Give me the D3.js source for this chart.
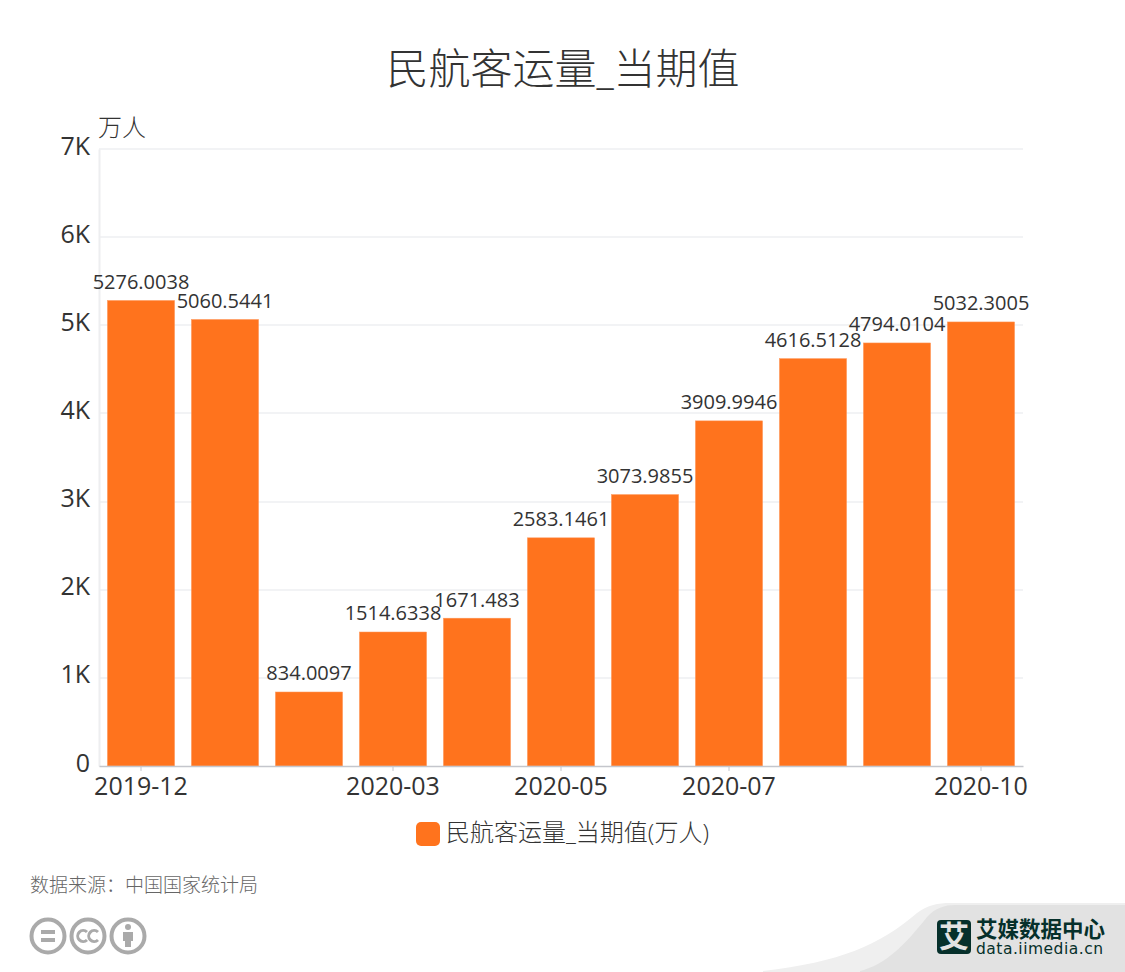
<!DOCTYPE html>
<html>
<head>
<meta charset="utf-8">
<script src="https://cdn.jsdelivr.net/npm/d3@7/dist/d3.min.js"></script>
<style>
html, body { margin: 0; padding: 0; background: #fff; }
svg { display: block; }
text { font-family: "Open Sans", "Noto Sans CJK SC", sans-serif; }
</style>
</head>
<body>
<svg id="chart" width="1125" height="972"></svg>
<script>
var categories = ['2019-12', '2020-01', '2020-02', '2020-03', '2020-04', '2020-05', '2020-06', '2020-07', '2020-08', '2020-09', '2020-10'];
var values = [5276.0038, 5060.5441, 834.0097, 1514.6338, 1671.483, 2583.1461, 3073.9855, 3909.9946, 4616.5128, 4794.0104, 5032.3005];
var shownCategories = ['2019-12', '2020-03', '2020-05', '2020-07', '2020-10'];
var yTicks = [0, 1000, 2000, 3000, 4000, 5000, 6000, 7000];

var titleText = '民航客运量_当期值';
var unitText = '万人';
var legendText = '民航客运量_当期值(万人)';
var sourceText = '数据来源：中国国家统计局';

var bounds = {left: 99, right: 1023, top: 149, bottom: 766};
var textColor = '#333';
var barColor = '#ff731d';
var barEdge = '#ff9a5e';
var gridColor = '#f2f3f5';

var svg = d3.select('#chart');

var x = d3.scaleBand().domain(categories).range([bounds.left, bounds.right]).paddingInner(0.2).paddingOuter(0.1);
var y = d3.scaleLinear().domain([0, 7000]).range([bounds.bottom, bounds.top]);

svg.append('text')
    .attr('x', 563).attr('y', 84)
    .attr('text-anchor', 'middle')
    .attr('fill', textColor)
    .style('font-size', '42px')
    .style('font-weight', 300)
    .text(titleText);

// grid
svg.append('g').selectAll('line')
    .data(yTicks.filter(function(d) { return d > 0; }))
    .join('line')
    .attr('x1', bounds.left).attr('x2', bounds.right)
    .attr('y1', function(d) { return Math.round(y(d)); })
    .attr('y2', function(d) { return Math.round(y(d)); })
    .attr('stroke', gridColor)
    .attr('stroke-width', 2);

// y axis
var yAxis = svg.append('g')
    .attr('transform', 'translate(' + bounds.left + ',0)')
    .call(d3.axisLeft(y).tickValues(yTicks).tickSize(0).tickPadding(9)
        .tickFormat(function(d) { return d === 0 ? '0' : (d / 1000) + 'K'; }));
yAxis.select('.domain').attr('stroke', '#edeef0').attr('stroke-width', 2);
yAxis.selectAll('text').attr('fill', textColor).style('font-size', '25px').attr('dy', '0.2em');

svg.append('text')
    .attr('x', 98).attr('y', 136)
    .attr('fill', textColor)
    .style('font-size', '24px')
    .style('font-weight', 300)
    .text(unitText);

// bars
svg.append('g').selectAll('rect')
    .data(values)
    .join('rect')
    .attr('x', function(d, i) { return x(categories[i]); })
    .attr('y', function(d) { return y(d) - 0.5; })
    .attr('width', x.bandwidth())
    .attr('height', function(d) { return y(0) - y(d) + 0.5; })
    .attr('fill', barColor)
    .attr('stroke', barEdge)
    .attr('stroke-width', 0.5);

// x axis
var xAxis = svg.append('g')
    .attr('transform', 'translate(0,' + bounds.bottom + ')')
    .call(d3.axisBottom(x).tickValues(shownCategories).tickSize(5).tickSizeOuter(0).tickPadding(6));
xAxis.select('.domain').attr('stroke', '#c4c6cc').attr('stroke-width', 1.5);
xAxis.selectAll('line').attr('stroke', '#c4c6cc');
xAxis.selectAll('text').attr('fill', textColor).style('font-size', '25px');

// value labels
svg.append('g').selectAll('text')
    .data(values)
    .join('text')
    .attr('x', function(d, i) { return x(categories[i]) + x.bandwidth() / 2; })
    .attr('y', function(d) { return y(d) - 12; })
    .attr('text-anchor', 'middle')
    .attr('fill', textColor)
    .style('font-size', '20px')
    .text(function(d) { return d; });

// legend
svg.append('rect')
    .attr('x', 416).attr('y', 822)
    .attr('width', 24).attr('height', 24).attr('rx', 5)
    .attr('fill', barColor);
svg.append('text')
    .attr('x', 446).attr('y', 841)
    .attr('fill', textColor)
    .style('font-size', '24px')
    .style('font-weight', 300)
    .text(legendText);

svg.append('text')
    .attr('x', 30).attr('y', 892)
    .attr('fill', '#666')
    .style('font-size', '19px')
    .style('font-weight', 300)
    .text(sourceText);

// licence badges
var badge = svg.append('g').attr('fill', 'none').attr('stroke', '#aaa').attr('stroke-width', 4);
[48, 88, 128].forEach(function(cx) {
    badge.append('circle').attr('cx', cx).attr('cy', 936).attr('r', 16.5);
});
badge.append('path').attr('d', 'M41 932H55M41 940H55');
badge.append('path').attr('stroke-width', 3).attr('d', 'M87 932a5.5 5.5 0 1 0 0 8M98 932a5.5 5.5 0 1 0 0 8');
svg.append('circle').attr('cx', 128).attr('cy', 927).attr('r', 3).attr('fill', '#aaa');
svg.append('path').attr('fill', '#aaa').attr('d', 'M123 932H133V941H131V947H125V941H123Z');

// logo corner
svg.append('path').attr('fill', '#efefef')
    .attr('d', 'M763 971C840 962 880 945 917 913C928 905 938 903 950 903H1125V972H763Z');
svg.append('path').attr('fill', '#e2e2e2')
    .attr('d', 'M860 971C885 965 905 945 927 917C935 908 945 905 955 905H1125V972H860Z');
svg.append('rect').attr('x', 937).attr('y', 920).attr('width', 34).attr('height', 34).attr('rx', 4).attr('fill', '#06302b');
svg.append('text').attr('x', 954).attr('y', 947).attr('text-anchor', 'middle')
    .attr('fill', '#e2e2e2').style('font-size', '30px').style('font-weight', 700).text('艾');
svg.append('text').attr('x', 976).attr('y', 937)
    .attr('fill', '#06302b').style('font-size', '21.5px').style('font-weight', 700).text('艾媒数据中心');
svg.append('text').attr('x', 976).attr('y', 954)
    .attr('fill', '#06302b').style('font-size', '15.5px').style('letter-spacing', '0.5px')
    .style('font-family', '"DejaVu Sans", sans-serif').text('data.iimedia.cn');
</script>
</body>
</html>
